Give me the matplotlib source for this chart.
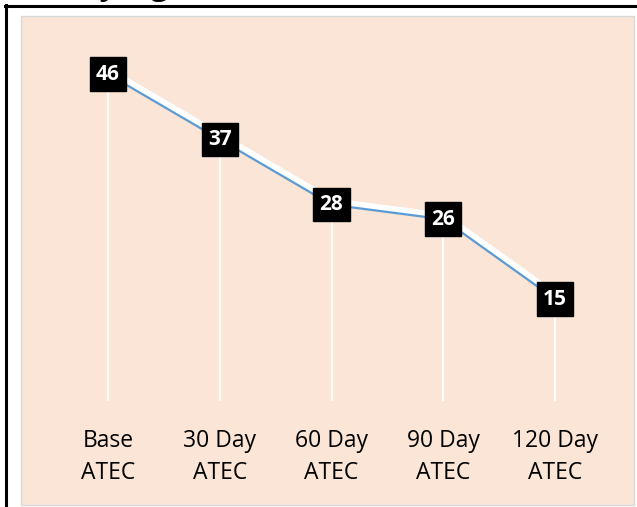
import matplotlib
matplotlib.use("Agg")
import matplotlib.pyplot as plt
from matplotlib.patches import Rectangle
from matplotlib.lines import Line2D
import matplotlib.transforms as mtransforms

categories = ["Base\nATEC", "30 Day\nATEC", "60 Day\nATEC", "90 Day\nATEC", "120 Day\nATEC"]
values = [46, 37, 28, 26, 15]

W, H = 637, 507
fig = plt.figure(figsize=(W / 100, H / 100), dpi=100)
fig.patch.set_facecolor("white")

def fx(px):
    return px / W

def fy(py):
    return 1 - py / H

# outer frame pieces
fig.add_artist(Line2D([fx(5), fx(637)], [fy(5.5), fy(5.5)], color="black", lw=2.2))
fig.add_artist(Line2D([fx(5.5), fx(5.5)], [fy(5), fy(507)], color="black", lw=2.2))

# cut-off title at top (only descenders visible, as in the reference)
fig.text(fx(62), fy(-5.5), "Key Figures", fontsize=22, fontweight="bold",
         family=["Open Sans", "DejaVu Sans"], ha="left", va="baseline", color="black")

# chart panel
fig.add_artist(Rectangle((fx(21), fy(505)), fx(634) - fx(21), fy(16) - fy(505),
                         facecolor="#FAE5D7", edgecolor="#D9D9D9", lw=1.0,
                         transform=fig.transFigure, zorder=0))

# axes: y=0 at 408px, y=50 at 45px; x from 52 to 611 px
ax = fig.add_axes([fx(52), fy(408), fx(611) - fx(52), fy(45) - fy(408)])
ax.set_facecolor("none")
x = list(range(len(values)))
ax.set_xlim(-0.5, len(values) - 0.5)
ax.set_ylim(0, 50)

# drop lines
for xi, v in zip(x, values):
    ax.plot([xi, xi], [1, v], color="white", lw=1.6, alpha=0.85, zorder=1,
            solid_capstyle="butt")

# white glow line offset upward
off = mtransforms.offset_copy(ax.transData, fig=fig, x=1.5, y=3.0, units="dots")
ax.plot(x, values, color="white", lw=5, transform=off, zorder=2, solid_capstyle="round")
ax.plot(x, values, color="#5B9BD5", lw=1.6, zorder=3)

for xi, v in zip(x, values):
    ax.text(xi, v, str(v), ha="center", va="center", color="white", fontsize=15,
            fontweight="bold", family=["Open Sans", "DejaVu Sans"], zorder=5,
            bbox=dict(boxstyle="square,pad=0.3", facecolor="black", edgecolor="black"))

for s in ax.spines.values():
    s.set_visible(False)
ax.set_yticks([])
ax.set_xticks(x)
ax.set_xticklabels(categories, fontsize=16.5, family=["Open Sans", "DejaVu Sans"],
                   linespacing=1.45)
ax.tick_params(axis="x", length=0, pad=15)

fig.savefig("out.png", dpi=100, facecolor="white")
